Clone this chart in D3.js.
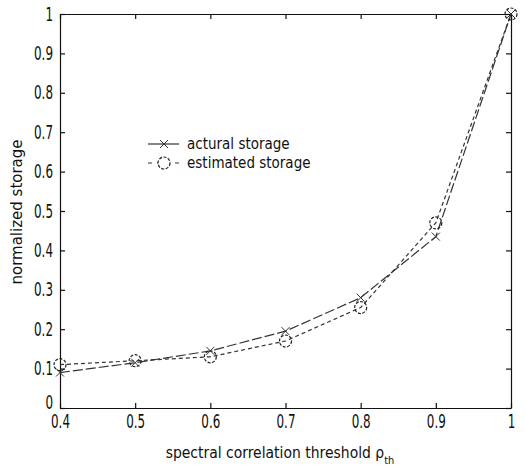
<!DOCTYPE html>
<html>
<head>
<meta charset="utf-8">
<script src="https://cdn.jsdelivr.net/npm/d3@7"></script>
<style>
  body { margin: 0; background: #fff; }
  text { font-family: "DejaVu Sans Condensed", "Liberation Sans Narrow", "Liberation Sans", sans-serif; fill: #111; }
  text.ylabel { font-family: "DejaVu Sans", sans-serif; }
</style>
</head>
<body>
<div id="chart"></div>
<script>
// data
const thresholds = [0.4, 0.5, 0.6, 0.7, 0.8, 0.9, 1.0];
const actualStorage = [0.09, 0.115, 0.145, 0.195, 0.28, 0.435, 1.0];
const estimatedStorage = [0.11, 0.12, 0.13, 0.17, 0.255, 0.47, 1.0];
const xTicks = [0.4, 0.5, 0.6, 0.7, 0.8, 0.9, 1];
const yTicks = [0, 0.1, 0.2, 0.3, 0.4, 0.5, 0.6, 0.7, 0.8, 0.9, 1];
const legendLabels = ["actural storage", "estimated storage"];

const width = 525, height = 472;
const margin = {top: 14, right: 14, bottom: 64, left: 60};
const squeeze = 0.7; // tall narrow tick digits

const svg = d3.select("#chart")
  .append("svg")
    .attr("width", width)
    .attr("height", height);

const x = d3.scaleLinear()
  .domain([0.4, 1])
  .range([margin.left, width - margin.right]);

const y = d3.scaleLinear()
  .domain([0, 1])
  .range([height - margin.bottom, margin.top]);

const fmt = d => d === 0 || d === 1 ? String(d) : d3.format(".1f")(d);

// box with inward ticks on every side
const axisStyle = g => {
  g.select(".domain").attr("stroke", "#111").attr("stroke-width", 1.2);
  g.selectAll(".tick line").attr("stroke", "#111").attr("stroke-width", 1.2);
  g.selectAll(".tick text").attr("font-size", 19).attr("fill", "#222")
    .attr("font-family", null);
};

svg.append("g")
  .attr("transform", `translate(0,${y(0)})`)
  .call(d3.axisBottom(x).tickValues(xTicks).tickFormat(fmt).tickSizeInner(-5).tickSizeOuter(0).tickPadding(8))
  .call(axisStyle)
  .call(g => g.selectAll(".tick text")
    .attr("y", 7)
    .attr("transform", `scale(${squeeze},1)`));

svg.append("g")
  .attr("transform", `translate(0,${y(1)})`)
  .call(d3.axisTop(x).tickValues(xTicks).tickFormat("").tickSizeInner(-5).tickSizeOuter(0))
  .call(axisStyle);

svg.append("g")
  .attr("transform", `translate(${x(0.4)},0)`)
  .call(d3.axisLeft(y).tickValues(yTicks).tickFormat(fmt).tickSizeInner(-5).tickSizeOuter(0))
  .call(axisStyle)
  .call(g => g.selectAll(".tick text")
    .attr("x", -7 / squeeze)
    .attr("transform", `scale(${squeeze},1)`))
  .call(g => g.selectAll(".tick").filter(d => d === 0).select("text").attr("dy", "0.05em"));

svg.append("g")
  .attr("transform", `translate(${x(1)},0)`)
  .call(d3.axisRight(y).tickValues(yTicks).tickFormat("").tickSizeInner(-5).tickSizeOuter(0))
  .call(axisStyle);

// series
const line = d3.line()
  .x(d => x(d[0]))
  .y(d => y(d[1]));

const actualPts = thresholds.map((t, i) => [t, actualStorage[i]]);
const estPts = thresholds.map((t, i) => [t, estimatedStorage[i]]);

svg.append("path")
  .datum(actualPts)
  .attr("d", line)
  .attr("fill", "none")
  .attr("stroke", "#333")
  .attr("stroke-width", 1.2)
  .attr("stroke-dasharray", "10,3");

svg.append("path")
  .datum(estPts)
  .attr("d", line)
  .attr("fill", "none")
  .attr("stroke", "#333")
  .attr("stroke-width", 1.2)
  .attr("stroke-dasharray", "4,3");

const crossPath = "M-4,-4L4,4M-4,4L4,-4";

svg.append("g")
  .selectAll("path")
  .data(actualPts)
  .join("path")
    .attr("transform", d => `translate(${x(d[0])},${y(d[1])})`)
    .attr("d", crossPath)
    .attr("stroke", "#333")
    .attr("stroke-width", 1);

svg.append("g")
  .selectAll("circle")
  .data(estPts)
  .join("circle")
    .attr("cx", d => x(d[0]))
    .attr("cy", d => y(d[1]))
    .attr("r", 6)
    .attr("fill", "none")
    .attr("stroke", "#222")
    .attr("stroke-width", 1.2)
    .attr("stroke-dasharray", "3,1.5");

// legend
const legend = svg.append("g").attr("transform", "translate(148,144)");

legend.append("line")
  .attr("x1", 0).attr("x2", 31).attr("y1", 0).attr("y2", 0)
  .attr("stroke", "#333").attr("stroke-width", 1.2);
legend.append("path")
  .attr("transform", "translate(16,0)")
  .attr("d", crossPath)
  .attr("stroke", "#333");

legend.append("line")
  .attr("x1", 0).attr("x2", 31).attr("y1", 19).attr("y2", 19)
  .attr("stroke", "#333").attr("stroke-width", 1.2)
  .attr("stroke-dasharray", "4,5");
legend.append("circle")
  .attr("cx", 16).attr("cy", 19).attr("r", 6)
  .attr("fill", "#fff").attr("stroke", "#222").attr("stroke-width", 1.2)
  .attr("stroke-dasharray", "3,1.5");

legend.selectAll("text.lbl")
  .data(legendLabels)
  .join("text")
    .attr("class", "lbl")
    .attr("x", 39)
    .attr("y", (d, i) => i * 19 + 5)
    .attr("font-size", 15)
    .text(d => d);

// axis titles
const xt = svg.append("text")
  .attr("x", 280)
  .attr("y", 458)
  .attr("text-anchor", "middle")
  .attr("font-size", 15.5);
xt.append("tspan").text("spectral correlation threshold \u03c1");
xt.append("tspan").attr("dy", 6).attr("font-size", 11).text("th");

svg.append("text")
  .attr("class", "ylabel")
  .attr("transform", "translate(22,212) rotate(-90)")
  .attr("text-anchor", "middle")
  .attr("font-size", 15)
  .text("normalized storage");
</script>
</body>
</html>
